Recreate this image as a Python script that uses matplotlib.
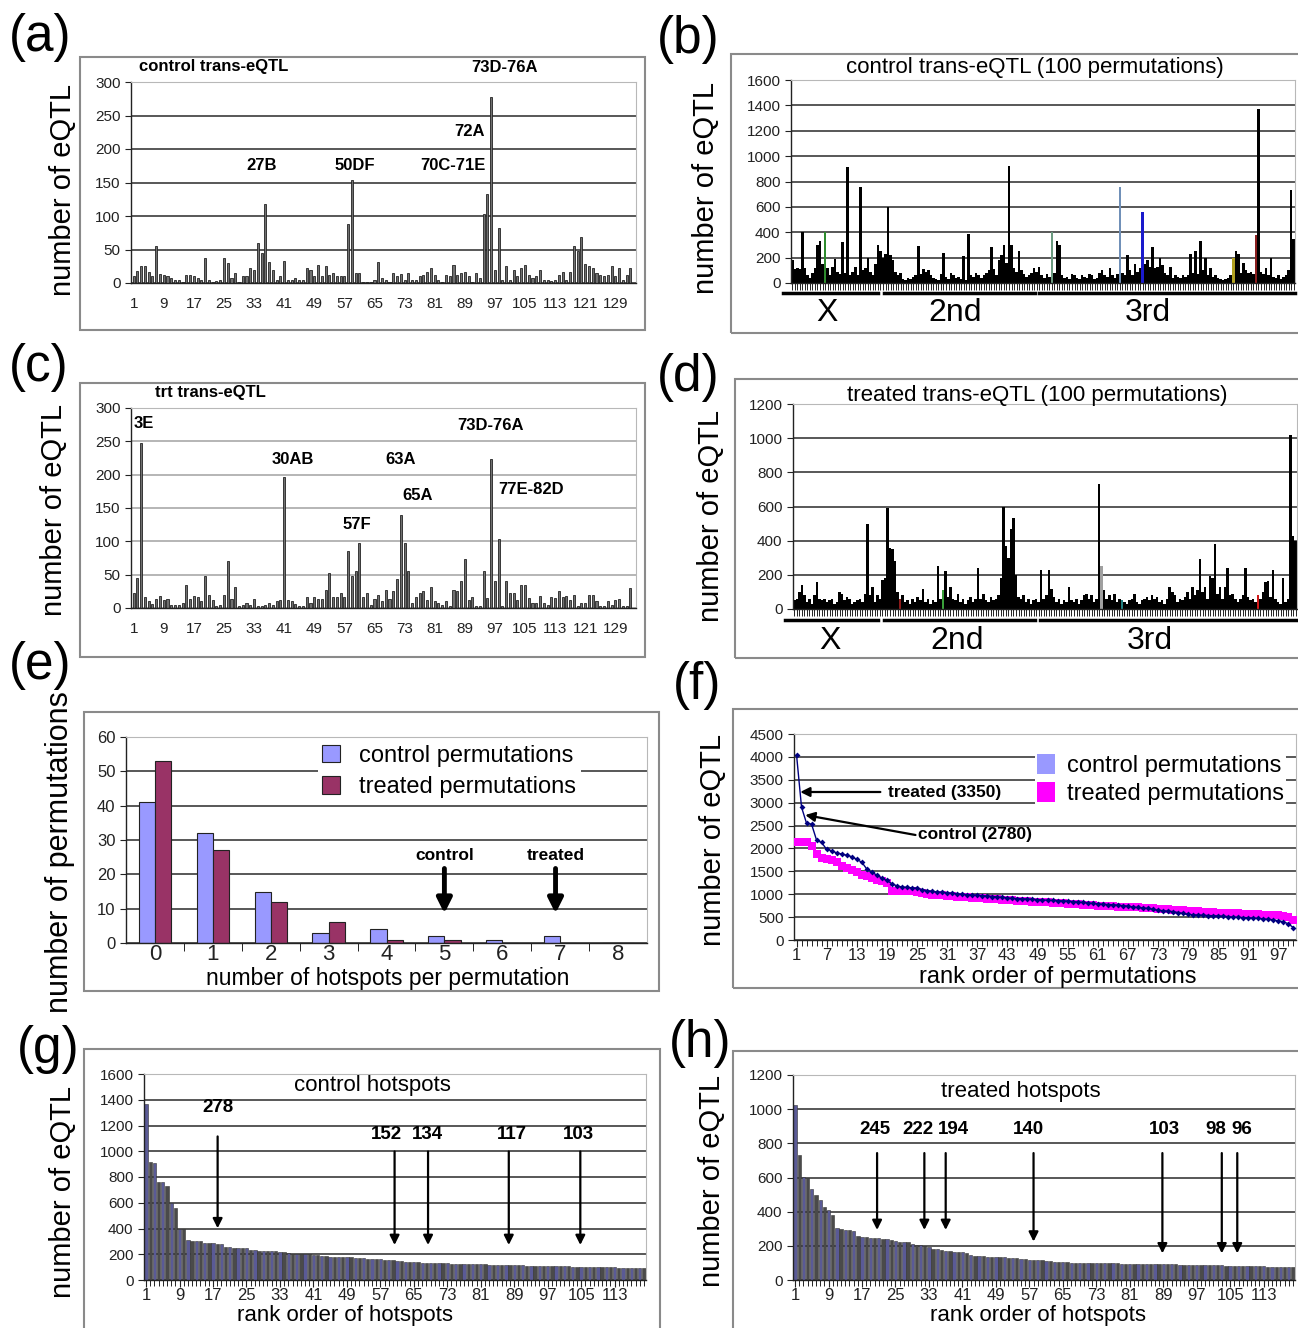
import matplotlib
matplotlib.use('Agg')
import matplotlib.pyplot as plt
from matplotlib.patches import Rectangle, Patch
from matplotlib.lines import Line2D
from matplotlib import font_manager as fm

# ---------------- data ----------------
a_vals = [10, 18, 25, 25, 17, 10, 55, 13, 12, 10, 8, 5, 5, 2, 12, 12, 10, 8, 5, 38,
          5, 2, 3, 5, 37, 30, 8, 15, 2, 10, 10, 22, 20, 60, 45, 118, 32, 20, 5, 10,
          33, 5, 5, 8, 5, 5, 22, 20, 10, 27, 10, 25, 12, 15, 10, 10, 10, 88, 153, 15,
          15, 2, 2, 2, 5, 32, 8, 5, 2, 15, 10, 14, 5, 15, 5, 5, 10, 12, 17, 22,
          12, 5, 2, 12, 10, 27, 12, 15, 17, 10, 2, 15, 8, 103, 133, 277, 20, 82, 5, 25,
          5, 20, 10, 22, 27, 12, 8, 10, 20, 5, 5, 3, 5, 12, 17, 5, 17, 55, 48, 68,
          28, 26, 22, 15, 12, 10, 12, 25, 10, 22, 5, 12, 22]
a_labels = ["27B", "50DF", "70C-71E", "72A", "73D-76A"]

c_vals = [23, 45, 247, 17, 10, 6, 14, 18, 12, 14, 5, 5, 5, 8, 34, 14, 18, 17, 10, 48,
          19, 12, 3, 5, 20, 70, 13, 32, 3, 5, 8, 5, 14, 3, 3, 5, 8, 5, 10, 12,
          196, 12, 10, 6, 3, 3, 17, 8, 16, 13, 13, 27, 53, 17, 17, 23, 17, 85, 48, 55,
          97, 17, 23, 5, 14, 19, 10, 27, 13, 25, 43, 140, 98, 55, 8, 17, 23, 25, 12, 32,
          10, 8, 5, 10, 3, 27, 25, 40, 74, 12, 17, 3, 3, 56, 15, 223, 40, 104, 3, 41,
          23, 23, 12, 34, 34, 15, 8, 8, 18, 8, 5, 16, 15, 26, 16, 18, 12, 20, 3, 8,
          8, 20, 20, 10, 3, 3, 10, 5, 12, 14, 3, 3, 30]
c_labels = ["3E", "30AB", "57F", "63A", "65A", "73D-76A", "77E-82D"]
x_ticks_ac = [1, 9, 17, 25, 33, 41, 49, 57, 65, 73, 81, 89, 97, 105, 113, 121, 129]

b_vals = [180, 110, 120, 110, 400, 120, 60, 40, 80, 120, 300, 330, 150, 400, 120, 60, 130, 190, 90, 70,
          320, 80, 915, 60, 90, 130, 60, 760, 100, 120, 200, 90, 60, 150, 300, 250, 200, 230, 600, 220,
          180, 90, 60, 80, 30, 25, 40, 30, 50, 60, 290, 70, 110, 90, 100, 60, 40, 30, 20, 70,
          240, 50, 30, 80, 60, 40, 50, 30, 210, 20, 390, 60, 50, 80, 60, 40, 60, 80, 100, 280,
          110, 60, 180, 220, 300, 160, 920, 300, 120, 90, 250, 100, 70, 50, 60, 80, 120, 90, 130, 60,
          40, 70, 50, 400, 80, 330, 300, 60, 40, 50, 30, 70, 60, 40, 30, 60, 50, 40, 70, 60,
          30, 40, 80, 100, 60, 50, 120, 60, 40, 70, 760, 80, 60, 220, 100, 60, 150, 90, 120, 560,
          150, 180, 130, 280, 120, 130, 200, 140, 80, 60, 130, 40, 60, 50, 40, 60, 50, 60, 230, 80,
          250, 70, 330, 100, 200, 60, 120, 50, 60, 40, 30, 20, 30, 40, 60, 200, 250, 230, 80, 160,
          100, 80, 90, 70, 380, 1370, 90, 70, 120, 60, 200, 50, 40, 60, 30, 50, 60, 100, 730, 350]
b_highlight = {13: '#2e8b2e', 103: '#6b9a80', 130: '#7090b8', 139: '#1a1acc',
               175: '#b0a020', 184: '#8b2020'}

d_vals = [50, 60, 100, 140, 80, 40, 60, 30, 80, 160, 60, 50, 60, 40, 50, 60, 30, 40, 100, 90,
          50, 70, 60, 30, 40, 50, 60, 40, 90, 500, 80, 130, 40, 80, 60, 170, 180, 590, 360, 350,
          280, 100, 60, 80, 40, 50, 30, 60, 40, 70, 50, 120, 40, 60, 30, 50, 40, 250, 60, 110,
          220, 70, 130, 60, 50, 90, 40, 60, 30, 50, 70, 40, 60, 240, 60, 90, 50, 40, 70, 50,
          60, 80, 180, 600, 370, 300, 470, 530, 200, 70, 60, 80, 40, 60, 30, 50, 60, 40, 230, 60,
          80, 230, 120, 70, 40, 60, 30, 50, 40, 130, 50, 40, 60, 30, 50, 80, 90, 60, 80, 40,
          60, 730, 250, 110, 60, 80, 50, 90, 40, 60, 50, 40, 30, 50, 60, 90, 40, 30, 50, 60,
          70, 50, 80, 60, 70, 40, 50, 30, 60, 130, 100, 80, 40, 60, 50, 70, 100, 60, 130, 80,
          110, 290, 100, 130, 60, 195, 180, 380, 90, 130, 60, 130, 240, 80, 90, 60, 40, 60, 80, 240,
          70, 50, 60, 40, 80, 60, 100, 160, 165, 70, 230, 60, 40, 30, 180, 40, 60, 1020, 430, 400]
d_highlight = {42: '#8b1a1a', 59: '#3aa03a', 122: '#a0a0a0', 130: '#208080', 184: '#d01818'}
chromosomes = ["X", "2nd", "3rd"]

e_hotspots = [0, 1, 2, 3, 4, 5, 6, 7, 8]
e_control = [41, 32, 15, 3, 4, 2, 1, 2, 0]
e_treated = [53, 27, 12, 6, 1, 1, 0, 0, 0]

f_control = [4050, 2900, 2550, 2530, 2180, 2130, 1980, 1950, 1900, 1880,
             1850, 1820, 1760, 1700, 1550, 1480, 1420, 1350, 1300, 1230,
             1180, 1160, 1150, 1140, 1130, 1100, 1080, 1060, 1050, 1040,
             1030, 1020, 1010, 1000, 990, 985, 980, 970, 960, 950,
             940, 930, 920, 910, 905, 900, 895, 890, 880, 875,
             870, 865, 860, 855, 850, 840, 830, 820, 810, 800,
             790, 780, 775, 770, 760, 750, 740, 720, 710, 700,
             690, 670, 650, 640, 630, 620, 600, 580, 560, 550,
             545, 540, 535, 530, 525, 520, 510, 500, 495, 490,
             485, 480, 470, 460, 450, 440, 420, 400, 350, 270]
f_treated = [2150, 2150, 2140, 2050, 1870, 1800, 1760, 1740, 1700, 1620,
             1580, 1540, 1480, 1420, 1390, 1350, 1310, 1280, 1250, 1080,
             1080, 1075, 1070, 1060, 1050, 1020, 1000, 990, 980, 975,
             970, 960, 950, 940, 930, 920, 915, 910, 900, 895,
             890, 880, 870, 865, 860, 850, 845, 840, 835, 830,
             820, 815, 810, 800, 790, 785, 780, 770, 765, 760,
             750, 745, 740, 735, 730, 725, 720, 715, 710, 700,
             695, 690, 680, 675, 670, 660, 650, 645, 640, 630,
             625, 620, 615, 610, 600, 595, 590, 585, 580, 575,
             570, 565, 560, 555, 550, 545, 540, 530, 500, 430]

g_vals = [1370, 920, 910, 760, 760, 730, 600, 560, 400, 400,
          310, 300, 300, 300, 290, 290, 285, 280, 280, 255,
          255, 250, 245, 245, 245, 235, 230, 228, 225, 225,
          225, 222, 220, 215, 210, 205, 200, 200, 200, 200,
          198, 195, 190, 185, 180, 180, 178, 175, 175, 175,
          172, 170, 168, 165, 162, 160, 160, 158, 155, 152,
          150, 145, 142, 140, 138, 136, 135, 134, 133, 132,
          131, 130, 130, 128, 127, 126, 125, 125, 124, 123,
          122, 121, 120, 120, 119, 118, 117, 116, 115, 114,
          113, 112, 112, 111, 110, 110, 109, 108, 107, 106,
          105, 105, 104, 103, 103, 102, 101, 100, 100, 99,
          99, 98, 98, 97, 97, 96, 96, 95, 95, 95]
g_arrow_labels = ["278", "152", "134", "117", "103"]
g_arrow_ranks = [18.1, 60.4, 68.4, 87.7, 104.8]

h_vals = [1025, 730, 605, 600, 530, 500, 470, 430, 410, 380,
          305, 300, 295, 290, 285, 255, 252, 250, 248, 245,
          243, 240, 238, 232, 228, 225, 225, 224, 210, 207,
          205, 200, 196, 182, 180, 175, 170, 168, 166, 164,
          162, 160, 145, 143, 140, 138, 136, 135, 135, 134,
          133, 130, 130, 128, 125, 122, 120, 118, 116, 115,
          112, 110, 108, 106, 104, 103, 102, 102, 101, 100,
          100, 100, 99, 99, 98, 98, 97, 97, 96, 96,
          95, 95, 94, 94, 93, 93, 93, 92, 92, 92,
          91, 91, 90, 89, 88, 87, 87, 86, 86, 86,
          85, 85, 85, 84, 84, 83, 82, 82, 81, 81,
          80, 80, 80, 79, 79, 79, 78, 78, 78, 77]
h_arrow_labels = ["245", "222", "194", "140", "103", "98", "96"]
h_arrow_ranks = [20.6, 31.9, 37.0, 58.0, 88.8, 103.0, 106.7]

# ---------------- setup ----------------
names = {f.name for f in fm.fontManager.ttflist}
NARROW = 'Liberation Sans Narrow' if 'Liberation Sans Narrow' in names else 'Liberation Sans'
plt.rcParams['font.family'] = ['Liberation Sans', 'DejaVu Sans']

W, H = 1298, 1328
fig = plt.figure(figsize=(W / 100, H / 100), dpi=100)
fig.patch.set_facecolor('white')


def add_ax(l, t, r, b):
    return fig.add_axes([l / W, 1 - b / H, (r - l) / W, (b - t) / H])


def ftext(x, y, s, **kw):
    kw.setdefault('ha', 'center')
    kw.setdefault('va', 'center')
    fig.text(x / W, 1 - y / H, s, **kw)


def box(l, t, r, b):
    fig.patches.append(Rectangle((l / W, 1 - b / H), (r - l) / W, (b - t) / H,
                                 transform=fig.transFigure, fill=False,
                                 edgecolor='#8a8a8a', lw=1.5))


def hline(x0, x1, y):
    fig.lines.append(Line2D([x0 / W, x1 / W], [1 - y / H, 1 - y / H],
                            transform=fig.transFigure, color='black', lw=2.5))


def style_ax(ax, ymax, ystep, fs=11):
    ax.set_ylim(0, ymax)
    ax.set_yticks(list(range(0, ymax + 1, ystep)))
    ax.yaxis.grid(True, color='#4a4a4a', lw=1.3)
    ax.set_axisbelow(True)
    for s in ['top', 'right']:
        ax.spines[s].set_color('#b8b8b8')
    for s in ['left', 'bottom']:
        ax.spines[s].set_color('#222222')
        ax.spines[s].set_linewidth(1.0)
    ax.tick_params(axis='y', direction='out', length=4, labelsize=fs,
                   colors='#222222', labelfontfamily=NARROW)
    ax.tick_params(axis='x', colors='#222222', labelfontfamily=NARROW)


def ylab(x, y, s, fs=21):
    ftext(x, y, s, rotation=90, fontsize=fs)


# panel boxes
box(80, 57, 645, 330)
box(731, 54, 1310, 333)
box(80, 383, 645, 657)
box(735, 379, 1310, 658)
box(84, 712, 659, 991)
box(733, 709, 1310, 988)
box(84, 1049, 660, 1340)
box(733, 1051, 1310, 1340)

# panel letters
for lab, x, y in [("(a)", 40, 38), ("(b)", 688, 40), ("(c)", 39, 367), ("(d)", 688, 377),
                  ("(e)", 40, 665), ("(f)", 697, 685), ("(g)", 48, 1050), ("(h)", 700, 1043)]:
    ftext(x, y, lab, fontsize=37)

# ---------------- (a) ----------------
axa = add_ax(131, 82, 636, 283)
xa = list(range(1, len(a_vals) + 1))
axa.bar(xa, a_vals, width=0.55, color='#707070', edgecolor='#222222', lw=0.6)
style_ax(axa, 300, 50)
axa.set_xlim(0.3, 134.5)
axa.set_xticks(x_ticks_ac)
axa.tick_params(axis='x', length=0, labelsize=11, pad=10)
ylab(63, 190, "number of eQTL")
bold = dict(fontsize=12, fontweight='bold', family=[NARROW, 'Liberation Sans'])
ftext(214, 67, "control trans-eQTL", **bold)
for s, (x, y) in zip(a_labels, [(262, 166), (355, 166), (453, 166), (470, 131), (504, 67)]):
    ftext(x, y, s, **bold)

# ---------------- (c) ----------------
axc = add_ax(131, 408, 636, 608)
xc = list(range(1, len(c_vals) + 1))
axc.bar(xc, c_vals, width=0.55, color='#707070', edgecolor='#222222', lw=0.6)
style_ax(axc, 300, 50)
axc.yaxis.grid(True, color='#b0b0b0', lw=1.3)
axc.set_xlim(0.3, 134.5)
axc.set_xticks(x_ticks_ac)
axc.tick_params(axis='x', length=0, labelsize=11, pad=10)
ylab(54, 510, "number of eQTL")
ftext(210, 393, "trt trans-eQTL", **bold)
for s, (x, y) in zip(c_labels, [(144, 423), (293, 460), (357, 525), (401, 460),
                                (418, 496), (490, 425), (531, 490)]):
    ftext(x, y, s, **bold)

# ---------------- (b) & (d) ----------------
def perm_panel(rect, vals, hl, ymax, title, ty, lines_y, lab_y, lines, lab_x, ylx, yly):
    ax = add_ax(*rect)
    xs = list(range(len(vals)))
    cols = [hl.get(i, 'black') for i in xs]
    ax.bar(xs, vals, width=1.0, color=cols, edgecolor='none')
    style_ax(ax, ymax, 200, fs=11)
    ax.set_xlim(-0.5, len(vals) - 0.5)
    ax.set_xticks(xs)
    ax.set_xticklabels([])
    ax.tick_params(axis='x', length=5, width=0.7, direction='out')
    ftext((rect[0] + rect[2]) / 2 - 8, ty, title, fontsize=16)
    for (x0, x1), name, lx in zip(lines, chromosomes, lab_x):
        hline(x0, x1, lines_y)
        ftext(lx, lab_y, name, fontsize=23)
    ylab(ylx, yly, "number of eQTL")
    return ax


perm_panel((791, 80, 1295, 283), b_vals, b_highlight, 1600,
           "control trans-eQTL (100 permutations)", 68, 293, 313,
           [(783, 878), (884, 1035), (1039, 1295)], [827, 955, 1148], 706, 188)
perm_panel((793, 404, 1297, 609), d_vals, d_highlight, 1200,
           "treated trans-eQTL (100 permutations)", 395, 620, 641,
           [(785, 878), (884, 1035), (1040, 1297)], [830, 957, 1150], 711, 516)

# ---------------- (e) ----------------
axe = add_ax(126, 737, 647, 943)
bw = 0.28
axe.bar([h - bw / 2 for h in e_hotspots], e_control, width=bw, color='#9999FF',
        edgecolor='#222222', lw=0.8, label='control permutations')
axe.bar([h + bw / 2 for h in e_hotspots], e_treated, width=bw, color='#993366',
        edgecolor='#222222', lw=0.8, label='treated permutations')
style_ax(axe, 60, 10, fs=12)
axe.set_xlim(-0.5, 8.5)
axe.set_xticks(e_hotspots)
axe.set_xticks([h + 0.5 for h in e_hotspots[:-1]], minor=True)
axe.tick_params(axis='x', which='major', length=0, labelsize=16, pad=1,
                labelfontfamily='Liberation Sans')
axe.tick_params(axis='x', which='minor', length=6, direction='out')
leg = axe.legend(loc='upper left', bbox_to_anchor=(0.368, 0.985), fontsize=17,
                 frameon=True, facecolor='white', edgecolor='none', framealpha=1,
                 handlelength=0.75, handleheight=0.75, handletextpad=0.8,
                 borderaxespad=0, borderpad=0.2, labelspacing=0.4)
for lab, xv in [("control", 5.0), ("treated", 6.92)]:
    axe.text(xv, 25.6, lab, ha='center', va='center', fontsize=12.5, fontweight='bold',
             bbox=dict(facecolor='white', edgecolor='none', pad=1))
    axe.annotate('', xy=(xv, 8.6), xytext=(xv, 21.7),
                 arrowprops=dict(arrowstyle='-|>', color='black', lw=3.5,
                                 mutation_scale=22, shrinkA=0, shrinkB=0))
ftext(388, 978, "number of hotspots per permutation", fontsize=16.5)
ylab(60, 852, "number of permutations", fs=22)

# ---------------- (f) ----------------
axf = add_ax(794, 734, 1296, 940)
ranks = list(range(1, len(f_control) + 1))
axf.plot(ranks, f_treated, color='#FF00FF', lw=1.2, marker='s', ms=5.5,
         markeredgewidth=0, zorder=3)
axf.plot(ranks, f_control, color='#000080', lw=1.0, marker='D', ms=3,
         markeredgewidth=0, zorder=4)
style_ax(axf, 4500, 500, fs=11)
axf.set_xlim(0.5, 100.5)
axf.set_xticks(list(range(1, 101, 6)))
axf.set_xticks(ranks, minor=True)
axf.tick_params(axis='x', which='major', length=5, labelsize=12, pad=1)
axf.tick_params(axis='x', which='minor', length=4, width=0.6)
handles = [Patch(facecolor='#9999FF', edgecolor='none'), Patch(facecolor='#FF00FF', edgecolor='none')]
axf.legend(handles, ['control permutations', 'treated permutations'], loc='upper left',
           bbox_to_anchor=(0.48, 0.913), fontsize=17, frameon=True, facecolor='white',
           edgecolor='none', framealpha=1, handlelength=0.75, handleheight=0.9,
           handletextpad=0.5, borderaxespad=0, borderpad=0.1, labelspacing=0.2)
axf.text(19.3, 3233, "treated (3350)", ha='left', va='center', fontsize=12.5, fontweight='bold')
axf.annotate('', xy=(1.74, 3233), xytext=(17.7, 3233),
             arrowprops=dict(arrowstyle='-|>', color='black', lw=1.6, mutation_scale=14,
                             shrinkA=0, shrinkB=0))
axf.text(25.2, 2294, "control (2780)", ha='left', va='center', fontsize=12.5, fontweight='bold')
axf.annotate('', xy=(2.74, 2730), xytext=(24.7, 2294),
             arrowprops=dict(arrowstyle='-|>', color='black', lw=1.6, mutation_scale=14,
                             shrinkA=0, shrinkB=0))
ftext(1058, 977, "rank order of permutations", fontsize=17)
ylab(713, 840, "number of eQTL")

# ---------------- (g) & (h) ----------------
def hot_panel(rect, vals, ymax, title, title_y, arrow_ranks, arrow_labels,
              label_pos, arrow_from, arrow_to, xl_x, ylx, yly):
    ax = add_ax(*rect)
    xs = list(range(1, len(vals) + 1))
    cols = ['#5a5a96' if i % 2 else '#4a4a4a' for i in xs]
    ax.bar(xs, vals, width=0.8, color=cols, edgecolor='#333333', lw=0.4)
    style_ax(ax, ymax, 200, fs=11)
    ax.set_xlim(0.5, len(vals) + 0.5)
    ax.set_xticks(list(range(1, len(vals) + 1, 8)))
    ax.set_xticks(xs, minor=True)
    ax.tick_params(axis='x', which='major', length=5, labelsize=12, pad=1)
    ax.tick_params(axis='x', which='minor', length=4, width=0.6)
    ax.text(55, title_y, title, ha='center', va='center', fontsize=16)
    for r, lab, (lx, ly), y0, y1 in zip(arrow_ranks, arrow_labels, label_pos,
                                        arrow_from, arrow_to):
        ax.text(lx, ly, lab, ha='center', va='center', fontsize=13.5, fontweight='bold')
        ax.annotate('', xy=(r, y1), xytext=(r, y0),
                    arrowprops=dict(arrowstyle='-|>', color='black', lw=1.6,
                                    mutation_scale=14, shrinkA=0, shrinkB=0))
    ftext(xl_x, 1316, "rank order of hotspots", fontsize=16)
    ylab(ylx, yly, "number of eQTL")
    return ax


hot_panel((144, 1074, 646, 1280), g_vals, 1600, "control hotspots", 1512,
          g_arrow_ranks, g_arrow_labels,
          [(18.2, 1343), (58.5, 1128), (68.2, 1128), (88.5, 1128), (104.3, 1128)],
          [1115, 998, 998, 998, 998], [402, 272, 272, 272, 272], 345, 63, 1192)
hot_panel((793, 1075, 1295, 1280), h_vals, 1200, "treated hotspots", 1104,
          h_arrow_ranks, h_arrow_labels,
          [(20.2, 879), (30.3, 879), (38.9, 879), (56.8, 879), (89.3, 879), (101.5, 879), (107.8, 879)],
          [743, 743, 743, 743, 743, 743, 743], [293, 293, 293, 225, 156, 156, 156], 1038, 712, 1181)

fig.savefig('out.png', dpi=100, facecolor='white')
